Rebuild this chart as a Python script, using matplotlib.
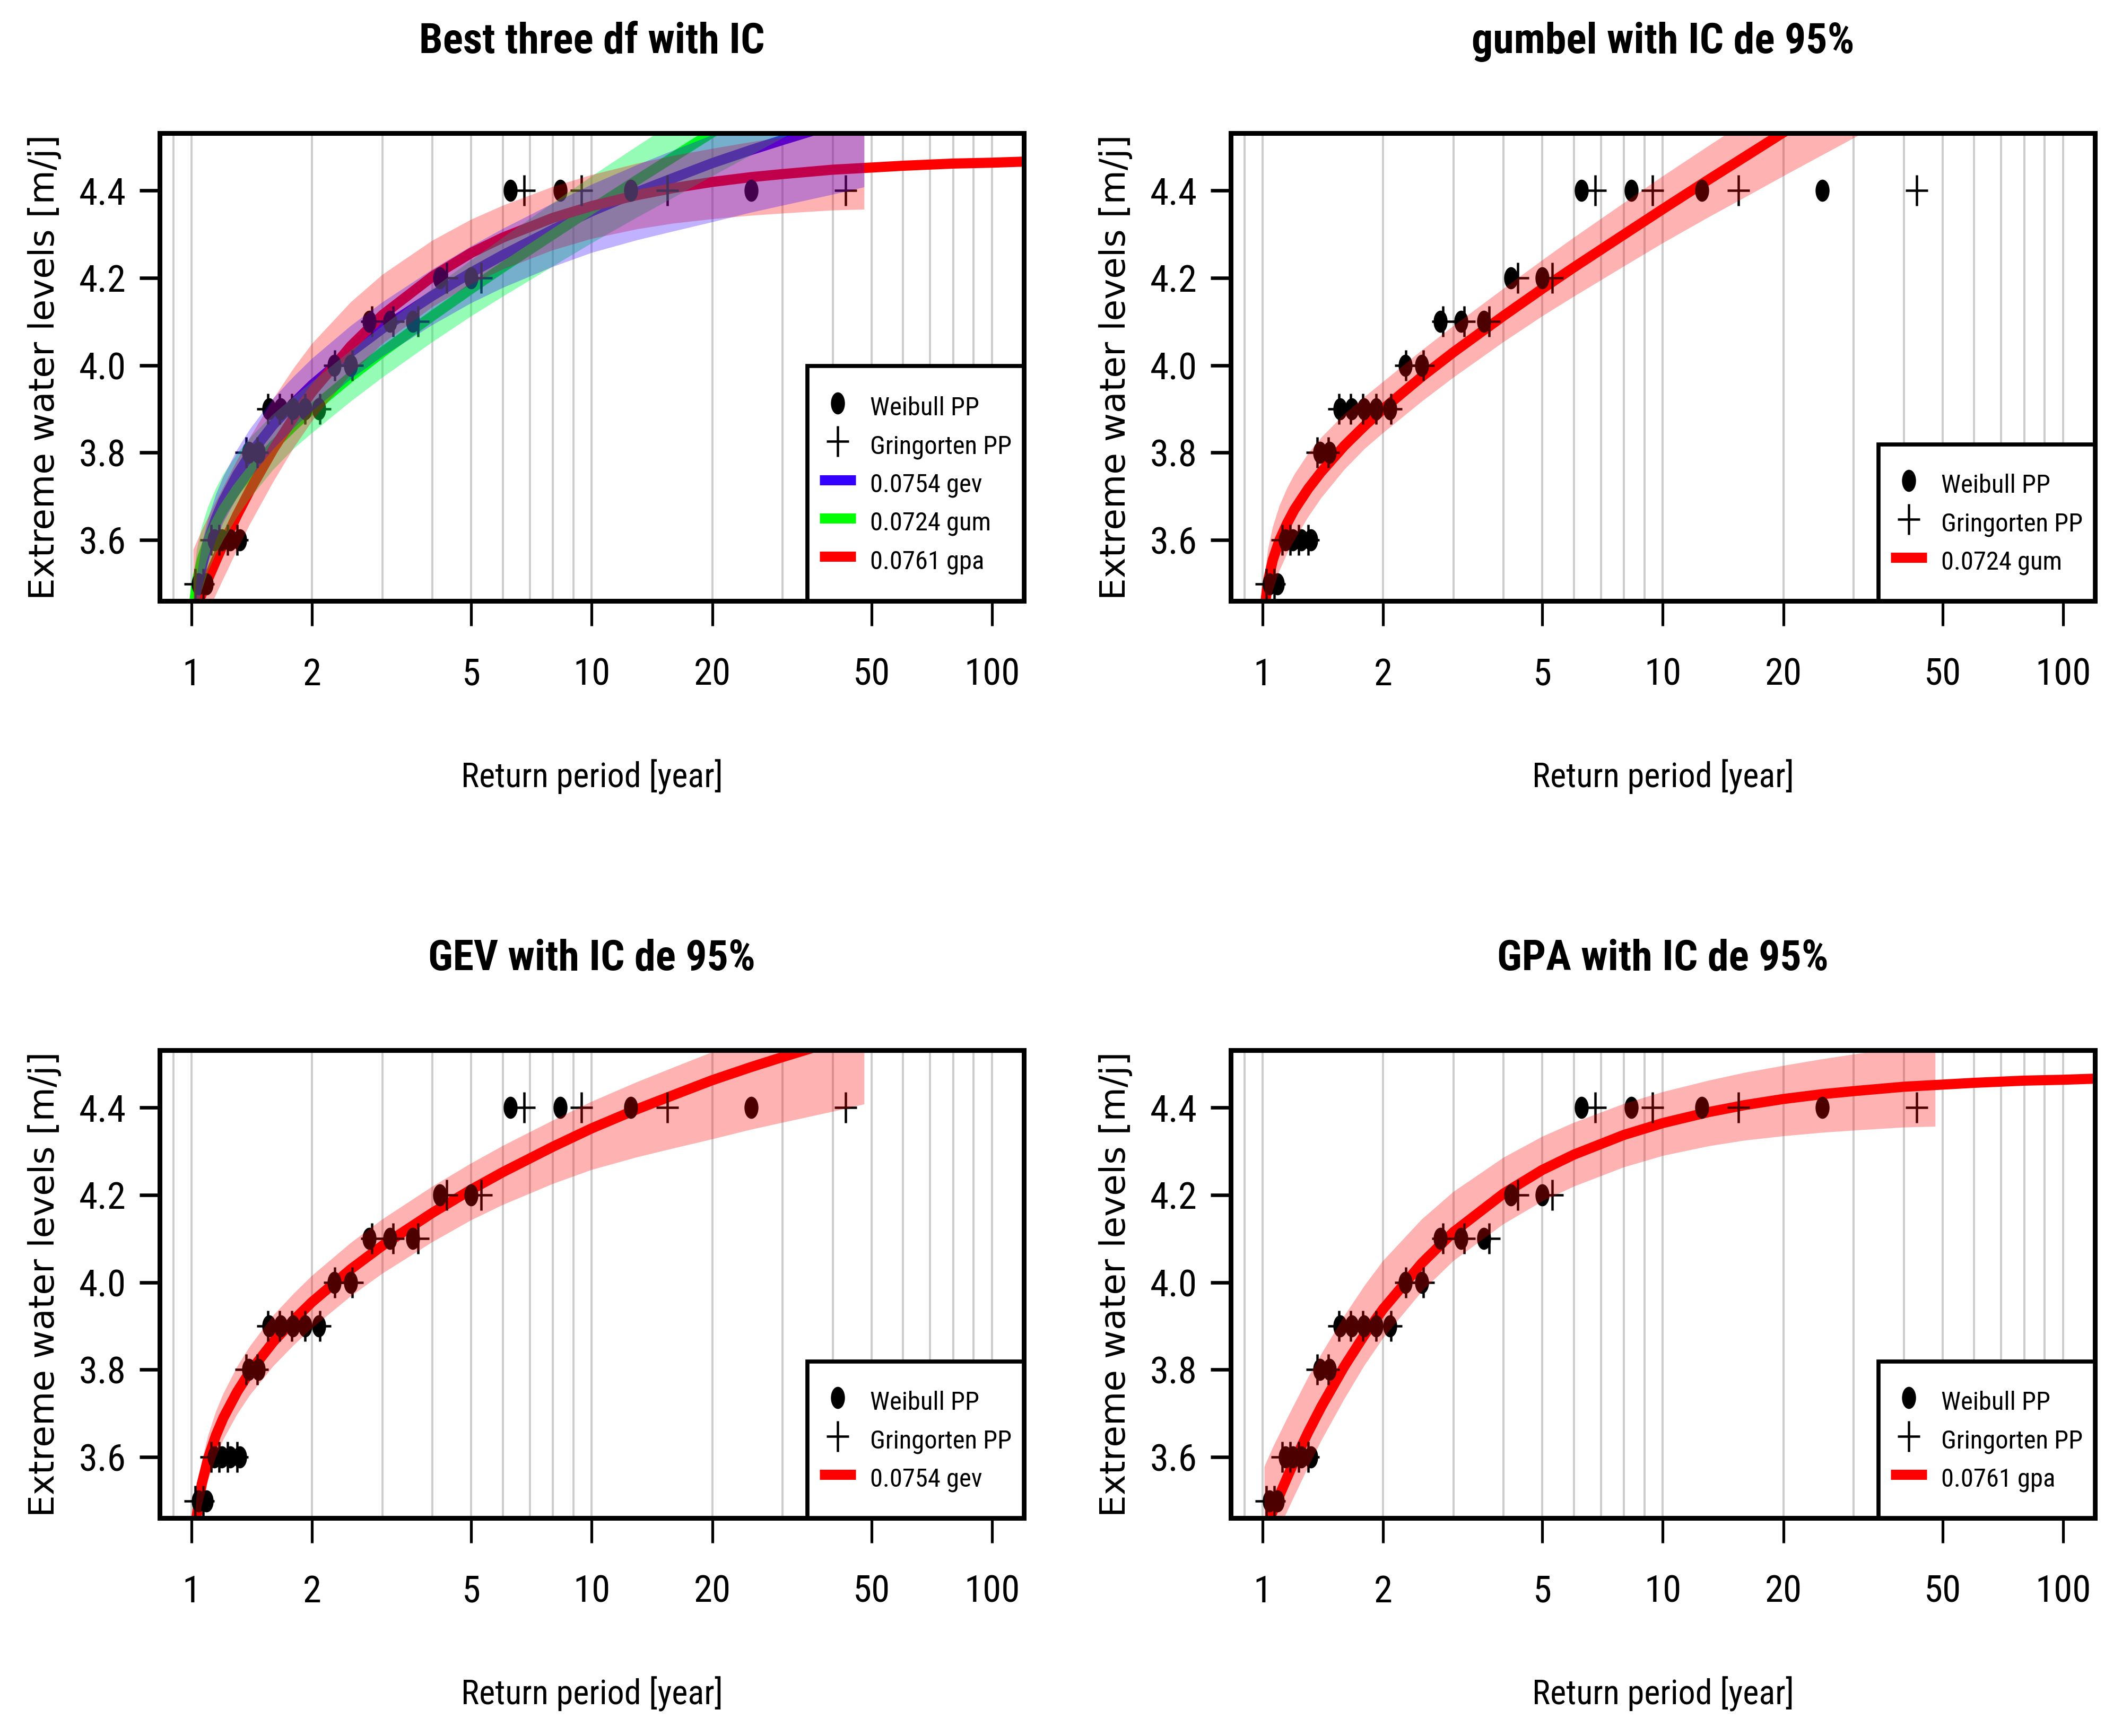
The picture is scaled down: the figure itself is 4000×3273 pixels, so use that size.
import numpy as np
import matplotlib
matplotlib.use('Agg')
import matplotlib.pyplot as plt
from matplotlib.path import Path
from matplotlib.patches import Rectangle
from matplotlib.transforms import Affine2D
from matplotlib.lines import Line2D
from matplotlib.ticker import NullLocator

plt.rcParams['font.family'] = ['Liberation Sans Narrow', 'Roboto Condensed',
                               'Open Sans Condensed', 'Liberation Sans', 'DejaVu Sans']

# observed extremes, largest first, with their plotting positions (return period, years)
levels = [4.4, 4.4, 4.4, 4.4, 4.2, 4.2, 4.1, 4.1, 4.1, 4.0, 4.0, 3.9,
          3.9, 3.9, 3.9, 3.9, 3.8, 3.8, 3.6, 3.6, 3.6, 3.6, 3.5, 3.5]
weibull_T = [25.0, 12.5, 8.33, 6.25, 5.0, 4.17, 3.57, 3.13, 2.78, 2.5, 2.27, 2.08,
             1.92, 1.79, 1.67, 1.56, 1.47, 1.39, 1.32, 1.25, 1.19, 1.14, 1.09, 1.04]
gringorten_T = [43.07, 15.46, 9.42, 6.78, 5.29, 4.34, 3.68, 3.19, 2.82, 2.52, 2.28, 2.09,
                1.92, 1.78, 1.66, 1.55, 1.46, 1.37, 1.30, 1.23, 1.17, 1.12, 1.07, 1.02]

# fitted return level curves
curve_T = [1.01, 1.03, 1.06, 1.1, 1.15, 1.2, 1.3, 1.4, 1.6, 1.8, 2, 2.5, 3, 4, 5,
           6, 8, 10, 13, 16, 20, 25, 30, 40, 48, 60, 80, 100, 125]
gev_level = [3.372, 3.467, 3.539, 3.598, 3.650, 3.690, 3.750, 3.796, 3.864, 3.914,
             3.955, 4.030, 4.084, 4.159, 4.212, 4.252, 4.310, 4.352, 4.396, 4.428,
             4.462, 4.492, 4.515, 4.550, 4.572, 4.600, 4.635, 4.660, 4.680]
gum_level = [3.440, 3.505, 3.555, 3.599, 3.638, 3.670, 3.718, 3.756, 3.816, 3.862,
             3.900, 3.974, 4.030, 4.113, 4.175, 4.224, 4.299, 4.357, 4.424, 4.476,
             4.532, 4.587, 4.632, 4.703, 4.748, 4.802, 4.873, 4.927, 4.971]
gpa_level = [3.428, 3.448, 3.477, 3.512, 3.553, 3.591, 3.658, 3.715, 3.808, 3.881,
             3.939, 4.044, 4.115, 4.203, 4.257, 4.292, 4.337, 4.364, 4.389, 4.405,
             4.419, 4.430, 4.437, 4.447, 4.451, 4.456, 4.461, 4.463, 4.466]

# 95% interval, distance above / below the curve (only drawn up to T = 48)
n_band = 25
gev_up = [0.050, 0.050, 0.050, 0.052, 0.054, 0.055, 0.057, 0.058, 0.060, 0.060, 0.060, 0.060, 0.060,
          0.060, 0.060, 0.060, 0.060, 0.061, 0.062, 0.063, 0.064, 0.065, 0.066, 0.068, 0.070]
gev_lo = [0.050, 0.050, 0.050, 0.050, 0.050, 0.050, 0.052, 0.054, 0.056, 0.058, 0.060, 0.062, 0.064,
          0.067, 0.070, 0.075, 0.085, 0.095, 0.110, 0.122, 0.135, 0.143, 0.150, 0.160, 0.165]
gum_up = [0.070, 0.072, 0.075, 0.078, 0.080, 0.080, 0.080, 0.078, 0.072, 0.066, 0.062, 0.060, 0.060,
          0.062, 0.065, 0.068, 0.072, 0.075, 0.077, 0.079, 0.081, 0.083, 0.085, 0.088, 0.090]
gum_lo = [0.070, 0.070, 0.070, 0.070, 0.070, 0.070, 0.065, 0.060, 0.055, 0.053, 0.055, 0.057, 0.058,
          0.060, 0.063, 0.067, 0.073, 0.078, 0.086, 0.093, 0.100, 0.107, 0.113, 0.122, 0.128]
gpa_up = [0.150, 0.148, 0.145, 0.140, 0.135, 0.130, 0.125, 0.120, 0.115, 0.112, 0.110, 0.100, 0.092,
          0.082, 0.076, 0.073, 0.071, 0.071, 0.072, 0.074, 0.076, 0.080, 0.084, 0.090, 0.095]
gpa_lo = [0.060, 0.065, 0.070, 0.075, 0.078, 0.080, 0.080, 0.078, 0.075, 0.070, 0.067, 0.065, 0.066,
          0.070, 0.072, 0.073, 0.074, 0.075, 0.078, 0.081, 0.085, 0.088, 0.090, 0.093, 0.095]

grid_T = [0.9, 1, 2, 3, 4, 5, 6, 7, 8, 9, 10, 20, 30, 40, 50, 60, 70, 80, 90, 100]
x_ticks = [1, 2, 5, 10, 20, 50, 100]
y_ticks = [3.6, 3.8, 4.0, 4.2, 4.4]

RED = '#ff0000'
RED_BAND = (1.0, 0.0, 0.0, 0.3)

fits = {
    'gev': dict(level=gev_level, up=gev_up, lo=gev_lo, label='0.0754 gev'),
    'gum': dict(level=gum_level, up=gum_up, lo=gum_lo, label='0.0724 gum'),
    'gpa': dict(level=gpa_level, up=gpa_up, lo=gpa_lo, label='0.0761 gpa'),
}

# squashed markers, like the original output
DOT = Affine2D().scale(0.6, 1.0).transform_path(Path.unit_circle())
PLUS = Path([(-0.72, 0), (0.72, 0), (0, -1), (0, 1)],
            [Path.MOVETO, Path.LINETO, Path.MOVETO, Path.LINETO])


def draw_panel(ax, title, series):
    # series: list of (fit key, line colour, band rgba), legend order
    for t in grid_T:
        ax.axvline(t, color='#cdcdcd', lw=1.15, zorder=0)

    for key, color, band in series:
        ax.plot(curve_T, fits[key]['level'], color=color, lw=5.5, zorder=2,
                solid_capstyle='butt')

    ax.plot(weibull_T, levels, ls='none', marker=DOT, ms=11, color='black', zorder=3)
    ax.plot(gringorten_T, levels, ls='none', marker=PLUS, ms=16.5, mew=1.3,
            mec='black', mfc='none', zorder=3)

    # bands go over lines and points, green first then red then blue
    band_order = {'gum': 0, 'gpa': 1, 'gev': 2}
    for key, color, band in sorted(series, key=lambda s: band_order[s[0]]):
        f = fits[key]
        t = np.array(curve_T[:n_band])
        mid = np.array(f['level'][:n_band])
        ax.fill_between(t, mid - np.array(f['lo']), mid + np.array(f['up']),
                        facecolor=band, edgecolor='none', lw=0, zorder=4)

    ax.set_xscale('log')
    ax.set_xlim(0.832, 120.2)
    ax.set_ylim(3.461, 4.530)
    ax.xaxis.set_minor_locator(NullLocator())
    ax.set_xticks(x_ticks)
    ax.set_xticklabels([str(v) for v in x_ticks])
    ax.set_yticks(y_ticks)
    ax.set_yticklabels(['%.1f' % v for v in y_ticks])
    ax.tick_params(axis='x', length=13.5, width=1.5, pad=17, labelsize=20.5)
    ax.tick_params(axis='y', length=11, width=1.9, pad=7.3, labelsize=20.5)
    for sp in ax.spines.values():
        sp.set_linewidth(2.6)
        sp.set_zorder(6)

    ax.text(0.5, 1.172, title, transform=ax.transAxes, ha='center', va='baseline',
            fontsize=23, fontweight='bold')
    ax.set_xlabel('Return period [year]', fontsize=18.5)
    ax.xaxis.set_label_coords(0.5, -0.399)
    ax.xaxis.label.set_va('baseline')
    ax.set_ylabel('Extreme water levels [m/j]', fontsize=19, family='DejaVu Sans')
    ax.yaxis.set_label_coords(-0.1332, 0.5)
    ax.yaxis.label.set_va('center')

    handles = [
        Line2D([], [], ls='none', marker=DOT, ms=11, color='black', label='Weibull PP'),
        Line2D([], [], ls='none', marker=PLUS, ms=16.5, mew=1.3, mec='black', mfc='none',
               label='Gringorten PP'),
    ]
    for key, color, band in series:
        handles.append(Line2D([], [], color=color, lw=5.5, solid_capstyle='butt',
                              label=fits[key]['label']))

    # legend box in the lower right corner, contents centred in it
    box_w = 0.2505
    box_h = 0.5026 if len(handles) == 5 else 0.3347
    ax.add_patch(Rectangle((1 - box_w, 0), box_w, box_h, transform=ax.transAxes,
                           facecolor='white', edgecolor='black', lw=2.2,
                           zorder=9, clip_on=False))
    leg = ax.legend(handles=handles, loc='center',
                    bbox_to_anchor=(1 - box_w, 0, box_w, box_h), bbox_transform=ax.transAxes,
                    borderaxespad=0, borderpad=0, fontsize=14, handlelength=1.4,
                    handletextpad=0.55, handleheight=1.52, labelspacing=0.257,
                    frameon=False)
    leg.set_zorder(10)


fig = plt.figure(figsize=(16, 13.092), dpi=250)
w, h = 0.40725, 0.26933
ax_tl = fig.add_axes([0.07525, 0.65383, w, h])
ax_tr = fig.add_axes([0.58, 0.65383, w, h])
ax_bl = fig.add_axes([0.07525, 0.12557, w, h])
ax_br = fig.add_axes([0.58, 0.12557, w, h])

draw_panel(ax_tl, 'Best three df with IC', [
    ('gev', '#3300ff', (0.2, 0.0, 1.0, 0.3)),
    ('gum', '#00ff00', (0.0, 0.98, 0.31, 0.42)),
    ('gpa', RED, RED_BAND),
])
draw_panel(ax_tr, 'gumbel with IC de 95%', [('gum', RED, RED_BAND)])
draw_panel(ax_bl, 'GEV with IC de 95%', [('gev', RED, RED_BAND)])
draw_panel(ax_br, 'GPA with IC de 95%', [('gpa', RED, RED_BAND)])

fig.savefig('out.png', dpi=250, facecolor='white')
